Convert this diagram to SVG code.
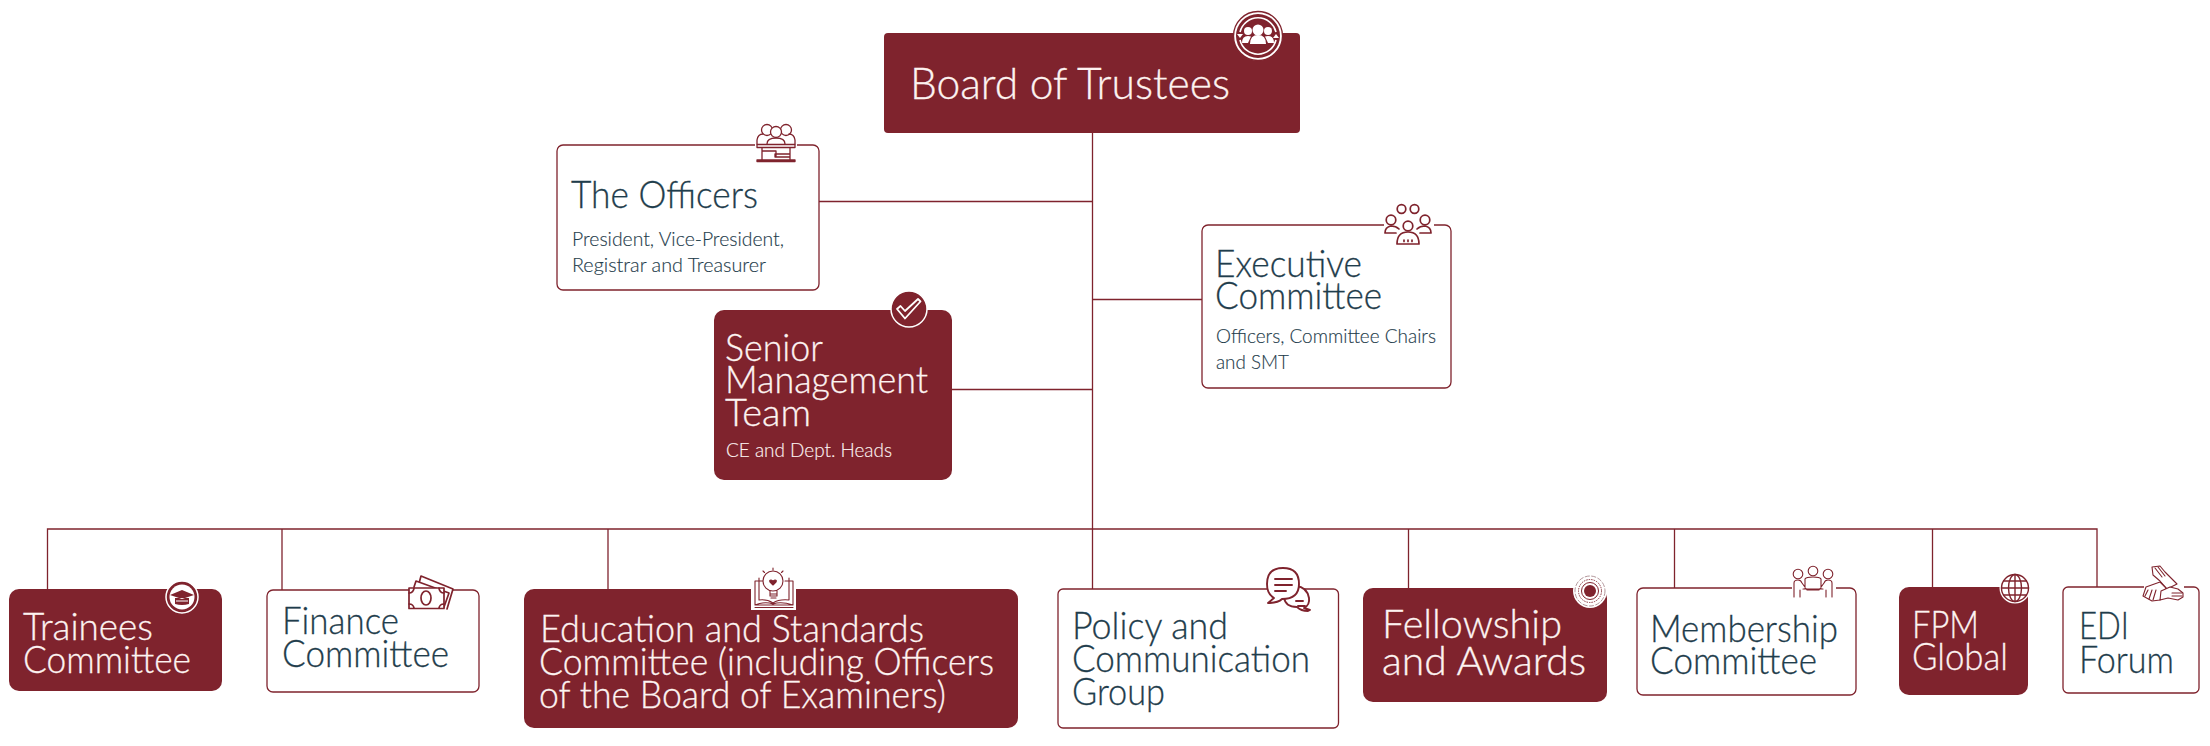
<svg xmlns="http://www.w3.org/2000/svg" width="2210" height="746" viewBox="0 0 2210 746">
<defs><style>
text{font-family:"Lato","Noto Sans","Liberation Sans",sans-serif;font-weight:300}
.t{font-size:37px;stroke-width:.3px}
.f{font-size:39px;stroke-width:.3px}
.b{font-size:43px;stroke-width:.3px}
.s{font-size:19px}
.dk{fill:#1f3d4c;stroke:#1f3d4c}
.lt{fill:#fdf3f1;stroke:#fdf3f1}
.s.dk,.s.lt{stroke-width:.15px}
.box{fill:#fff;stroke:#7f232d;stroke-width:1.3}
.fill{fill:#7f232d}
.wire{fill:none;stroke:#7f232d;stroke-width:1.3}
.ic{fill:none;stroke:#7f232d;stroke-width:1.7;stroke-linecap:round;stroke-linejoin:round}
.icw{fill:none;stroke:#fff;stroke-width:1.8;stroke-linecap:round;stroke-linejoin:round}
.ict{fill:none;stroke:#7f232d;stroke-width:1.1;stroke-linecap:round;stroke-linejoin:round}
</style></defs>
<rect width="2210" height="746" fill="#fff"/>
<g id="connectors" class="wire">
<path d="M1092.500 133V589"/>
<path d="M819 201.500H1092.500"/>
<path d="M1092.500 299.500H1202"/>
<path d="M952 389.500H1092.500"/>
<path d="M47.500 589V529H2097V587"/>
<path d="M282 529V590"/>
<path d="M608 529V589"/>
<path d="M1408.500 529V588"/>
<path d="M1674.500 529V588"/>
<path d="M1932.500 529V587"/>
</g>
<g id="board">
<rect class="fill" x="884" y="33" width="416" height="100" rx="4"/>
<text class="lt b" x="910" y="99" textLength="320" lengthAdjust="spacingAndGlyphs">Board of Trustees</text>
<circle cx="1258" cy="36" r="24.500" fill="#fff" stroke="#7f232d" stroke-width="1.300"/>
<circle cx="1258" cy="36" r="22" class="fill"/>
<path d="M1240 32a18.500 18.500 0 0 1 36 0M1276 40a18.500 18.500 0 0 1-36 0" fill="none" stroke="#fff" stroke-width="1.600"/>
<path d="M1237 34l3 4 3-4zM1273 38l3-4 3 4z" fill="#fff"/>
<circle cx="1258" cy="30" r="5.500" fill="#fff"/><circle cx="1248" cy="31" r="4" fill="#fff"/><circle cx="1268" cy="31" r="4" fill="#fff"/>
<path d="M1250 44q0-9 8-9t8 9zM1242 43q0-7 6-7l3 .5-3 6.500zM1274 43q0-7-6-7l-3 .5 3 6.500z" fill="#fff"/>
</g>
<g id="officers">
<rect class="box" x="557" y="145" width="262" height="145" rx="6"/>
<text class="dk t" x="571" y="208" textLength="187" lengthAdjust="spacingAndGlyphs">The Officers</text>
<text class="dk s" x="572" y="246" textLength="212" lengthAdjust="spacingAndGlyphs">President, Vice-President,</text>
<text class="dk s" x="572" y="272" textLength="194" lengthAdjust="spacingAndGlyphs">Registrar and Treasurer</text>
<rect x="755" y="141" width="42" height="22" fill="#fff"/>
<g class="ict" stroke-width="1.300" style="stroke-width:1.300"><circle cx="767" cy="130" r="5.500"/><circle cx="786" cy="130" r="5.500"/><circle cx="776" cy="132" r="5.500" fill="#fff"/>
<path d="M757 144v-4q1-6 6-6M795 144v-4q-1-6-6-6M767 144q0-6 9-6t9 6"/>
<path d="M757 144.500h38v3h-38zM762 147.500v12M790 147.500v12M757 160h38v1.500h-38zM762 151h14v5M790 154h-15v3h15"/></g>
</g>
<g id="exec">
<rect class="box" x="1202" y="225" width="249" height="163" rx="6"/>
<text class="dk t" x="1215" y="277" textLength="147" lengthAdjust="spacingAndGlyphs">Executive</text>
<text class="dk t" x="1215" y="309" textLength="167" lengthAdjust="spacingAndGlyphs">Committee</text>
<text class="dk s" x="1216" y="343" textLength="220" lengthAdjust="spacingAndGlyphs">Officers, Committee Chairs</text>
<text class="dk s" x="1216" y="369" textLength="73" lengthAdjust="spacingAndGlyphs">and SMT</text>
<rect x="1384" y="220" width="50" height="12" fill="#fff"/>
<g class="ic"><circle cx="1401.500" cy="209" r="4.300"/><circle cx="1414.500" cy="209" r="4.300"/>
<circle cx="1391" cy="220" r="4.800"/><circle cx="1425" cy="220" r="4.800"/><circle cx="1408" cy="226" r="4.800"/>
<path d="M1385 233q0-6 6-7 5 0 8 3M1431 233q0-6-6-7-5 0-8 3M1385 233h11M1431 233h-11"/>
<path d="M1397 244q0-12 11-12t11 12zM1397 244h22M1404 240v1.500M1408 240v1.500M1412 240v1.500"/></g>
</g>
<g id="smt">
<rect class="fill" x="714" y="310" width="238" height="170" rx="10"/>
<text class="lt t" x="725" y="361" textLength="98" lengthAdjust="spacingAndGlyphs">Senior</text>
<text class="lt t" x="725" y="393" textLength="203" lengthAdjust="spacingAndGlyphs">Management</text>
<text class="lt t" x="725" y="426" textLength="86" lengthAdjust="spacingAndGlyphs">Team</text>
<text class="lt s" x="726" y="457" textLength="166" lengthAdjust="spacingAndGlyphs">CE and Dept. Heads</text>
<circle cx="909" cy="309" r="18" class="fill" stroke="#fff" stroke-width="1.500"/>
<path class="icw" d="M897 309l3.500-3 4.500 5 13-12 2.500 2.500-15.500 17z"/>
</g>
<g id="trainees">
<rect class="fill" x="9" y="589" width="213" height="102" rx="10"/>
<text class="lt t" x="23" y="640" textLength="130" lengthAdjust="spacingAndGlyphs">Trainees</text>
<text class="lt t" x="23" y="673" textLength="168" lengthAdjust="spacingAndGlyphs">Committee</text>
<circle cx="182" cy="597" r="16" class="fill" stroke="#fff" stroke-width="1.500"/>
<circle cx="182" cy="597" r="12.500" fill="#fff"/>
<path d="M170 595l12-5 12 5-12 4zM175 598v6q7 2 14 0v-6" fill="#7f232d"/>
<path d="M176 601h12" stroke="#fff" stroke-width="1"/>
</g>
<g id="finance">
<rect class="box" x="267" y="590" width="212" height="102" rx="6"/>
<text class="dk t" x="282" y="634" textLength="117" lengthAdjust="spacingAndGlyphs">Finance</text>
<text class="dk t" x="282" y="667" textLength="167" lengthAdjust="spacingAndGlyphs">Committee</text>
<g class="ic"><path d="M418 587l3-11 32 13-6 20" fill="#fff"/><path d="M414 587l2-6 33 12-5 14" fill="#fff"/><rect x="409" y="588" width="35" height="20.500" fill="#fff"/>
<ellipse cx="426" cy="598" rx="5" ry="7"/><path d="M409 593a5 5 0 0 0 5-5M444 593a5 5 0 0 1-5-5M409 604a5 5 0 0 1 5 4M444 604a5 5 0 0 0-5 4"/></g>
</g>
<g id="education">
<rect class="fill" x="524" y="589" width="494" height="139" rx="10"/>
<text class="lt t" x="540" y="642" textLength="384" lengthAdjust="spacingAndGlyphs">Education and Standards</text>
<text class="lt t" x="539" y="675" textLength="455" lengthAdjust="spacingAndGlyphs">Committee (including Officers</text>
<text class="lt t" x="539" y="708" textLength="407" lengthAdjust="spacingAndGlyphs">of the Board of Examiners)</text>
<rect x="751" y="585" width="45" height="25" fill="#fff"/>
<g class="ict"><path d="M763 581h-8v24h38v-24h-8M755 605q10-4 18-1 8-3 20 1M755 607.500h38M759 578v22q8-1 14 3 6-4 16-3v-22"/>
<circle cx="773" cy="581" r="10" fill="#fff"/><path d="M770 591v5h7v-5M770 594h7M771 598h5M773 568v2M763 571l1.500 1.500M783 571l-1.500 1.500"/>
<path d="M773 585l-3-3q-1-2 1-2l2 1 2-1q2 0 1 2z" fill="#7f232d"/></g>
</g>
<g id="policy">
<rect class="box" x="1058" y="589" width="280.500" height="139" rx="5"/>
<text class="dk t" x="1072" y="639" textLength="156" lengthAdjust="spacingAndGlyphs">Policy and</text>
<text class="dk t" x="1072" y="672" textLength="238" lengthAdjust="spacingAndGlyphs">Communication</text>
<text class="dk t" x="1072" y="705" textLength="93" lengthAdjust="spacingAndGlyphs">Group</text>
<g class="ic" style="stroke-width:1.900"><path d="M1296 586q11 1 13 12 1 7-5 10l6 2-2 1q-7 0-11-4-12 0-13-10" fill="#fff"/>
<path d="M1283 568q16 0 16 16 0 15-17 15-4 4-14 4l6-5q-7-4-7-14 0-16 16-16z" fill="#fff"/>
<path d="M1275 579h17M1275 585h17M1275 591h11M1296 601h7M1298 606h7"/></g>
</g>
<g id="fellowship">
<rect class="fill" x="1363" y="588" width="244" height="114" rx="10"/>
<text class="lt f" x="1382" y="638" textLength="180" lengthAdjust="spacingAndGlyphs">Fellowship</text>
<text class="lt f" x="1382" y="675" textLength="204" lengthAdjust="spacingAndGlyphs">and Awards</text>
<circle cx="1590" cy="591" r="17" fill="#fff"/>
<circle cx="1590" cy="591" r="15" fill="none" stroke="#a98a8e" stroke-width=".9" stroke-dasharray="5 1.500"/>
<circle cx="1590" cy="591" r="11.500" fill="none" stroke="#7f232d" stroke-width=".9" stroke-dasharray="1.500 1"/>
<circle cx="1590" cy="591" r="8.500" fill="none" stroke="#7f232d" stroke-width="1"/>
<circle cx="1590" cy="591" r="6" class="fill"/>
</g>
<g id="membership">
<rect class="box" x="1637" y="588" width="219" height="107" rx="6"/>
<text class="dk t" x="1650" y="642" textLength="188" lengthAdjust="spacingAndGlyphs">Membership</text>
<text class="dk t" x="1650" y="674" textLength="167" lengthAdjust="spacingAndGlyphs">Committee</text>
<rect x="1792" y="584" width="44" height="10" fill="#fff"/>
<g class="ict"><circle cx="1798" cy="574" r="4.800"/><circle cx="1813" cy="571" r="4.800"/><circle cx="1828" cy="574" r="4.800"/>
<path d="M1794 597v-14q0-3 4-3 3 0 4 3l5 7h12l5-7q1-3 4-3 4 0 4 3v14M1805 588v-9q1-2 8-2t8 2v9M1800 590v7M1826 590v7M1803 589h20"/></g>
</g>
<g id="fpm">
<rect class="fill" x="1899" y="587" width="129" height="108" rx="10"/>
<text class="lt t" x="1912" y="638" textLength="67" lengthAdjust="spacingAndGlyphs">FPM</text>
<text class="lt t" x="1912" y="670" textLength="96" lengthAdjust="spacingAndGlyphs">Global</text>
<circle cx="2015" cy="588" r="15.500" fill="#fff"/>
<g class="ic" style="stroke-width:1.400"><circle cx="2015" cy="588" r="13.500"/><ellipse cx="2015" cy="588" rx="6.500" ry="13.500"/><path d="M2015 574.500v27M2001.500 588h27M2003.500 581h23M2003.500 595h23"/></g>
</g>
<g id="edi">
<rect class="box" x="2063" y="587" width="136" height="106" rx="5"/>
<text class="dk t" x="2079" y="639" textLength="50" lengthAdjust="spacingAndGlyphs">EDI</text>
<text class="dk t" x="2079" y="673" textLength="95" lengthAdjust="spacingAndGlyphs">Forum</text>
<rect x="2144" y="584" width="40" height="8" fill="#fff"/>
<g class="ict"><path d="M2152 567l8-1 5 6 12 12-10 5-7-8-7-6z" fill="#fff"/>
<path d="M2160 582l6 6-6 12-8 1-9-5 3-9z" fill="#fff"/>
<path d="M2161 591l9-4 8 2 5 4v4l-5 3-10-2-8 2z" fill="#fff"/>
<path d="M2155 568l7 9M2158 567l7 9M2148 590l-3 6M2152 590l-3 9M2156 590l-3 10M2172 593h10M2172 596h10"/></g>
</g>
</svg>
